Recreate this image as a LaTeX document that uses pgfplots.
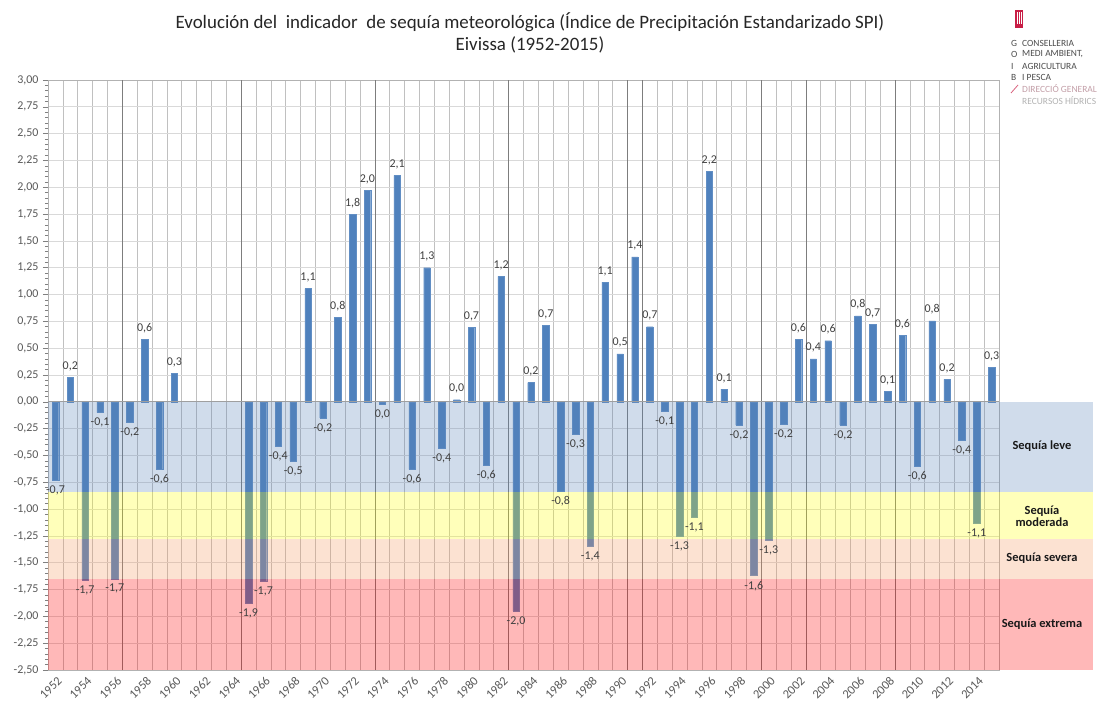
\documentclass[border=0pt]{standalone}
\usepackage{fontspec}
\setmainfont{Carlito}
\usepackage{pgfplots}
\pgfplotsset{compat=1.18}
\usepackage{pgfplotstable}
\definecolor{barblue}{RGB}{79,129,189}
\definecolor{bandblue}{RGB}{88,130,184}
\definecolor{bandyellow}{RGB}{255,255,0}
\definecolor{bandpeach}{RGB}{245,150,95}
\definecolor{bandred}{RGB}{255,0,0}
\definecolor{txt}{RGB}{64,64,64}
\definecolor{ticktxt}{RGB}{89,89,89}
\definecolor{gridh}{RGB}{217,217,217}
\definecolor{gridv}{RGB}{192,192,192}
\definecolor{griddark}{RGB}{125,125,125}
\definecolor{logored}{RGB}{200,30,70}
\pgfplotstableread{
i v l
1 0.227 0,2
6 0.584 0,6
8 0.267 0,3
17 1.056 1,1
19 0.790 0,8
20 1.745 1,8
21 1.973 2,0
23 2.110 2,1
25 1.250 1,3
27 0.020 0,0
28 0.696 0,7
30 1.170 1,2
32 0.180 0,2
33 0.715 0,7
37 1.115 1,1
38 0.447 0,5
39 1.350 1,4
40 0.700 0,7
44 2.150 2,2
45 0.118 0,1
50 0.584 0,6
51 0.400 0,4
52 0.570 0,6
54 0.800 0,8
55 0.724 0,7
56 0.096 0,1
57 0.620 0,6
59 0.755 0,8
60 0.210 0,2
63 0.320 0,3
}\posdata
\pgfplotstableread{
i v l
0 -0.730 -0,7
2 -1.660 -1,7
3 -0.100 -0,1
4 -1.650 -1,7
5 -0.190 -0,2
7 -0.630 -0,6
13 -1.880 -1,9
14 -1.675 -1,7
15 -0.410 -0,4
16 -0.550 -0,5
18 -0.150 -0,2
22 -0.020 0,0
24 -0.630 -0,6
26 -0.430 -0,4
29 -0.590 -0,6
31 -1.950 -2,0
34 -0.830 -0,8
35 -0.300 -0,3
36 -1.350 -1,4
41 -0.084 -0,1
42 -1.255 -1,3
43 -1.075 -1,1
46 -0.217 -0,2
47 -1.620 -1,6
48 -1.290 -1,3
49 -0.210 -0,2
53 -0.217 -0,2
58 -0.600 -0,6
61 -0.354 -0,4
62 -1.130 -1,1
}\negdata
\begin{document}
\begin{tikzpicture}[x=1bp,y=1bp]
\useasboundingbox (-48,-44) rectangle (1050,670);
\begin{axis}[
  at={(0,0)}, anchor=south west, scale only axis,
  width=951bp, height=590bp,
  xmin=-0.5, xmax=63.5, ymin=-2.5, ymax=3,
  clip=false,
  ybar, bar width=6.5bp, bar shift=0pt,
  ytick distance=0.25,
  minor y tick num=4,
  ytick pos=left,
  xtick={0,2,...,62},
  xticklabels={1952,1954,1956,1958,1960,1962,1964,1966,1968,1970,1972,1974,1976,1978,1980,1982,1984,1986,1988,1990,1992,1994,1996,1998,2000,2002,2004,2006,2008,2010,2012,2014},
  minor xtick={-0.5,0.5,...,63.5},
  xminorgrids=true, ymajorgrids=true, xmajorgrids=false,
  minor x grid style={gridv, line width=0.6bp},
  major y grid style={gridh, line width=0.8bp},
  x tick style={draw=none},
  y tick style={gray, line width=0.5bp},
  tick align=outside,
  major tick length=5bp, minor tick length=3bp,
  axis line style={draw=gray!60, line width=0.6bp},
  y tick label style={font=\fontsize{12}{14}\selectfont, text=ticktxt, xshift=-1bp},
  yticklabel style={/pgf/number format/fixed, /pgf/number format/fixed zerofill, /pgf/number format/precision=2, /pgf/number format/use comma, /pgf/number format/assume math mode=true},
  x tick label style={font=\fontsize{12.5}{14}\selectfont, text=ticktxt, rotate=45, anchor=north east, xshift=2bp, inner sep=1.5bp},
  point meta=explicit symbolic,
  nodes near coords,
]
\addplot[fill=barblue, draw=barblue!90!white, line width=0.3bp,
  every node near coord/.append style={font=\fontsize{12}{13}\selectfont, text=txt, anchor=south, yshift=3bp}]
  table[x=i, y=v, meta=l] {\posdata};
\addplot[fill=barblue, draw=barblue!90!white, line width=0.3bp,
  every node near coord/.append style={font=\fontsize{12}{13}\selectfont, text=txt, anchor=north, yshift=-2bp}]
  table[x=i, y=v, meta=l] {\negdata};
\foreach \k in {4.5,12.5,21.5,30.5,38.5,39.5,47.5,50.5,56.5}{
  \edef\tmp{\noexpand\draw[griddark, line width=0.6bp] (axis cs:\k,-2.5) -- (axis cs:\k,3);}\tmp
}
\fill[bandblue, fill opacity=0.28] (axis cs:-0.5,0) rectangle (axis cs:69.8,-0.84);
\fill[bandyellow, fill opacity=0.27] (axis cs:-0.5,-0.84) rectangle (axis cs:69.8,-1.28);
\fill[bandpeach, fill opacity=0.28] (axis cs:-0.5,-1.28) rectangle (axis cs:69.8,-1.65);
\fill[bandred, fill opacity=0.28] (axis cs:-0.5,-1.65) rectangle (axis cs:69.8,-2.5);
\draw[gray!75, line width=0.8bp] (axis cs:-0.5,0) -- (axis cs:63.5,0);
\end{axis}
% band labels
\begin{scope}[font=\bfseries\fontsize{12.5}{13}\selectfont, text=black!90]
\node at (994,224) {Sequía leve};
\node[align=center] at (994,154) {Sequía\\[-1pt]moderada};
\node at (994,112) {Sequía severa};
\node at (994,46) {Sequía extrema};
\end{scope}
% title
\node[font=\fontsize{19}{20}\selectfont, text=black!85] at (482,648) {Evolución del \ indicador \ de sequía meteorológica (Índice de Precipitación Estandarizado SPI)};
\node[font=\fontsize{19}{20}\selectfont, text=black!85] at (482,625) {Eivissa (1952-2015)};
% logo
\fill[logored] (967,642) rectangle (975,660);
\foreach \xx in {969,971,973}{\draw[white, line width=0.5bp] (\xx,646) -- (\xx,658);}
\begin{scope}[font=\fontsize{9.5}{10}\selectfont, text=black!70, inner sep=0pt]
\node[anchor=west] at (963,627) {G};
\node[anchor=west] at (963,615.5) {O};
\node[anchor=west] at (963,604) {I};
\node[anchor=west] at (963,592.5) {B};
\node[anchor=west] at (974,627) {CONSELLERIA};
\node[anchor=west] at (974,615.5) {MEDI AMBIENT,};
\node[anchor=west] at (974,604) {AGRICULTURA};
\node[anchor=west] at (974,592.5) {I PESCA};
\node[anchor=west, text=logored!35!gray!60] at (974,581) {DIRECCIÓ GENERAL};
\node[anchor=west, text=gray!60] at (974,569.5) {RECURSOS HÍDRICS};
\end{scope}
\draw[logored!70, line width=0.8bp] (963,577) -- (970,585);
\end{tikzpicture}
\end{document}
